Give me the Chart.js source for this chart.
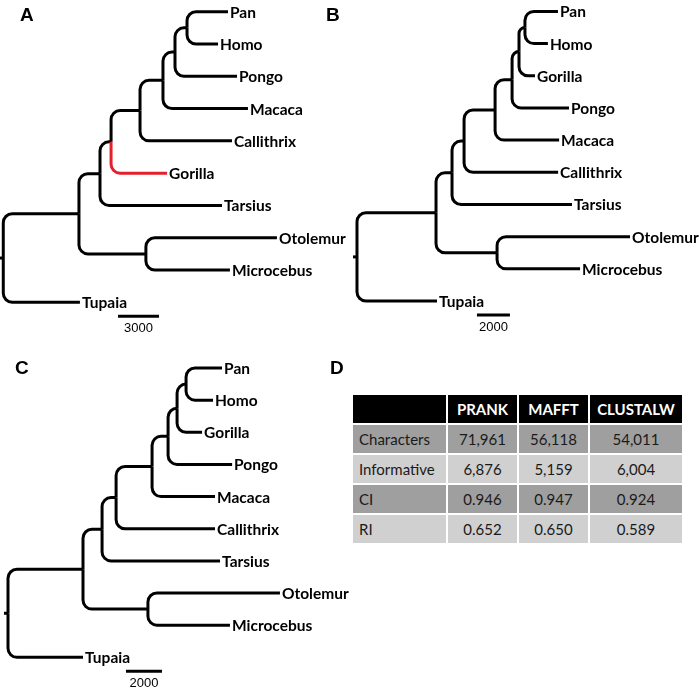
<!DOCTYPE html>
<html>
<head>
<meta charset="utf-8">
<script src="https://cdn.jsdelivr.net/npm/chart.js@4.4.1/dist/chart.umd.min.js"></script>
<style>
  body { margin: 0; background: #fff; }
  #page { position: relative; width: 700px; height: 693px; overflow: hidden; }
  canvas { position: absolute; }
  .letter { position: absolute; font: bold 19px "Liberation Sans", Arial, sans-serif; line-height: 19px; color: #000; }
  #tbl { position: absolute; left: 351px; top: 393px; border-collapse: separate; border-spacing: 2px;
         font: 15px Lato, sans-serif; color: #1a1a1a; }
  #tbl td { padding: 0; height: 28px; text-align: center; vertical-align: middle; }
  #tbl td:first-child { text-align: left; padding-left: 6px; }
  #tbl tr.head td { background: #000; color: #fff; font-weight: bold; }
  #tbl tr.dark td { background: #9f9f9f; }
  #tbl tr.light td { background: #d0d0d0; }
</style>
</head>
<body>
<div id="page">
  <canvas id="treeA" width="350" height="340" style="left:0;top:0"></canvas>
  <canvas id="treeB" width="350" height="340" style="left:350px;top:0"></canvas>
  <canvas id="treeC" width="350" height="353" style="left:0;top:340px"></canvas>
  <div class="letter" style="left:20px;top:5px">A</div>
  <div class="letter" style="left:326px;top:5px">B</div>
  <div class="letter" style="left:15px;top:358px">C</div>
  <div class="letter" style="left:330px;top:358px">D</div>
  <table id="tbl"></table>
</div>
<script>
// tip order, top to bottom
const leavesA = ['Pan', 'Homo', 'Pongo', 'Macaca', 'Callithrix', 'Gorilla', 'Tarsius', 'Otolemur', 'Microcebus', 'Tupaia'];
const leavesBC = ['Pan', 'Homo', 'Gorilla', 'Pongo', 'Macaca', 'Callithrix', 'Tarsius', 'Otolemur', 'Microcebus', 'Tupaia'];

// nodes and their parents (same shape for all three trees)
const nodesA = ['root', 'n1', 'Tupaia', 'ns', 'Otolemur', 'Microcebus', 'n2', 'Tarsius', 'n3', 'Gorilla', 'n4', 'Callithrix', 'n5', 'Macaca', 'n6', 'Pongo', 'n7', 'Pan', 'Homo'];
const nodesBC = ['root', 'n1', 'Tupaia', 'ns', 'Otolemur', 'Microcebus', 'n2', 'Tarsius', 'n3', 'Callithrix', 'n4', 'Macaca', 'n5', 'Pongo', 'n6', 'Gorilla', 'n7', 'Pan', 'Homo'];
const parentsA = [null, 'root', 'root', 'n1', 'ns', 'ns', 'n1', 'n2', 'n2', 'n3', 'n3', 'n4', 'n4', 'n5', 'n5', 'n6', 'n6', 'n7', 'n7'];
const parentsBC = [null, 'root', 'root', 'n1', 'ns', 'ns', 'n1', 'n2', 'n2', 'n3', 'n3', 'n4', 'n4', 'n5', 'n5', 'n6', 'n6', 'n7', 'n7'];

// branch lengths (changes)
const branchA = [0, 5540, 5610, 4900, 9590, 6150, 1540, 8930, 810, 4100, 2120, 6730, 1680, 6220, 880, 4540, 880, 3000, 2270];
const branchB = [0, 4790, 4850, 3700, 8060, 5030, 970, 7270, 730, 5700, 1880, 3880, 1030, 3450, 420, 970, 360, 2000, 1390];
const branchC = [0, 4170, 4170, 3610, 7340, 4560, 1060, 6560, 780, 5500, 2000, 3500, 890, 3560, 500, 1390, 500, 2000, 1500];

const scaleBars = [3000, 2000, 2000];

// panel D
const methods = ['PRANK', 'MAFFT', 'CLUSTALW'];
const statNames = ['Characters', 'Informative', 'CI', 'RI'];
const statsPRANK = [71961, 6876, 0.946, 0.652];
const statsMAFFT = [56118, 5159, 0.947, 0.650];
const statsCLUSTALW = [54011, 6004, 0.924, 0.589];

function buildTree(nodes, parents, branches, leaves) {
  const idx = {};
  nodes.forEach((n, i) => { idx[n] = i; });
  const depth = i => parents[i] == null ? 0 : depth(idx[parents[i]]) + branches[i];
  const row = i => {
    const li = leaves.indexOf(nodes[i]);
    if (li >= 0) return li;
    const kids = nodes.map((n, j) => j).filter(j => parents[j] === nodes[i]);
    return kids.reduce((s, j) => s + row(j), 0) / kids.length;
  };
  return nodes.map((n, i) => ({
    x: depth(i),
    y: row(i),
    name: n,
    parentIndex: parents[i] == null ? -1 : idx[parents[i]],
    leaf: leaves.includes(n)
  }));
}

const treePlugin = {
  id: 'tree',
  afterDatasetsDraw(chart, args, opts) {
    const pts = chart.data.datasets[0].data;
    const xs = chart.scales.x, ys = chart.scales.y;
    const ctx = chart.ctx;
    ctx.save();
    ctx.lineWidth = 3;
    ctx.lineCap = 'butt';
    ctx.lineJoin = 'round';

    pts.forEach(p => {
      if (p.parentIndex < 0) {
        // little stub left of the root
        const rx = xs.getPixelForValue(p.x), ry = ys.getPixelForValue(p.y);
        ctx.strokeStyle = '#000';
        ctx.beginPath();
        ctx.moveTo(rx - 4, ry);
        ctx.lineTo(rx, ry);
        ctx.stroke();
        return;
      }
      const q = pts[p.parentIndex];
      const px = xs.getPixelForValue(q.x), py = ys.getPixelForValue(q.y);
      const cx = xs.getPixelForValue(p.x), cy = ys.getPixelForValue(p.y);
      const r = Math.min(opts.radius, Math.abs(cy - py), cx - px);
      ctx.strokeStyle = p.name === opts.highlight ? '#e3202b' : '#000';
      ctx.beginPath();
      ctx.moveTo(px, py);
      ctx.arcTo(px, cy, cx, cy, r);
      ctx.lineTo(cx, cy);
      ctx.stroke();
    });

    // tip labels
    ctx.fillStyle = '#000';
    ctx.font = 'bold 15.5px Lato, sans-serif';
    ctx.textAlign = 'left';
    ctx.textBaseline = 'middle';
    pts.filter(p => p.leaf).forEach(p => {
      ctx.fillText(p.name, xs.getPixelForValue(p.x) + 2, ys.getPixelForValue(p.y) + 1);
    });

    // scale bar
    const lastRow = Math.max(...pts.map(p => p.y));
    const by = ys.getPixelForValue(lastRow) + 14;
    const b0 = xs.getPixelForValue(opts.barStart);
    const b1 = xs.getPixelForValue(opts.barStart + opts.barValue);
    ctx.lineWidth = 3;
    ctx.beginPath();
    ctx.moveTo(b0, by);
    ctx.lineTo(b1, by);
    ctx.stroke();
    ctx.font = '13px "Liberation Sans", Arial, sans-serif';
    ctx.textAlign = 'center';
    ctx.fillText(String(opts.barValue), (b0 + b1) / 2, by + 12);
    ctx.restore();
  }
};

function makeTree(id, points, view, bar) {
  return new Chart(document.getElementById(id), {
    type: 'scatter',
    data: { datasets: [{ data: points, pointRadius: 0, pointHoverRadius: 0 }] },
    options: {
      responsive: false,
      animation: false,
      events: [],
      layout: { padding: 0 },
      scales: {
        x: { type: 'linear', display: false, min: view.xMin, max: view.xMax },
        y: { type: 'linear', display: false, reverse: true, min: view.yMin, max: view.yMax }
      },
      plugins: {
        legend: { display: false },
        tooltip: { enabled: false },
        tree: { radius: 9, highlight: bar.highlight, barValue: bar.value, barStart: bar.start }
      }
    },
    plugins: [treePlugin]
  });
}

makeTree('treeA', buildTree(nodesA, parentsA, branchA, leavesA),
  { xMin: -240, xMax: 25380, yMin: -0.362, yMax: 10.167 },
  { value: scaleBars[0], start: 8400, highlight: 'Gorilla' });
makeTree('treeB', buildTree(nodesBC, parentsBC, branchB, leavesBC),
  { xMin: -424, xMax: 20790, yMin: -0.354, yMax: 10.211 },
  { value: scaleBars[1], start: 7270, highlight: null });
makeTree('treeC', buildTree(nodesBC, parentsBC, branchC, leavesBC),
  { xMin: -445, xMax: 19015, yMin: -0.871, yMax: 10.109 },
  { value: scaleBars[2], start: 6560, highlight: null });

// table for panel D
const fmt = v => Number.isInteger(v) ? v.toLocaleString('en-US') : v.toFixed(3);
const columns = [statsPRANK, statsMAFFT, statsCLUSTALW];
const colWidths = [87, 69, 69, 92];
const tbl = document.getElementById('tbl');
let html = '<tr class="head">' + ['', ...methods].map((m, i) => `<td style="width:${colWidths[i]}px">${m}</td>`).join('') + '</tr>';
statNames.forEach((s, r) => {
  html += `<tr class="${r % 2 === 0 ? 'dark' : 'light'}"><td>${s}</td>` + columns.map(c => `<td>${fmt(c[r])}</td>`).join('') + '</tr>';
});
tbl.innerHTML = html;
</script>
</body>
</html>
